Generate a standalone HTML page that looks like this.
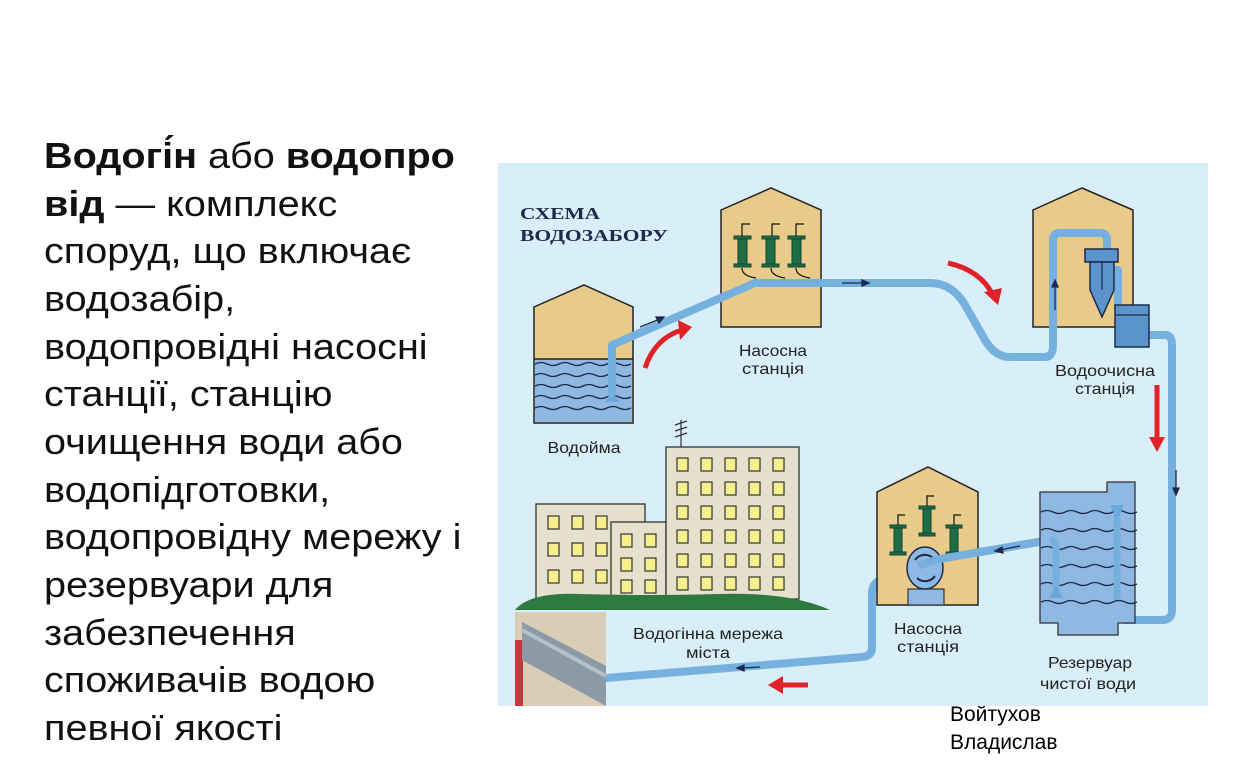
<!DOCTYPE html>
<html><head><meta charset="utf-8">
<style>
html,body{margin:0;padding:0;background:#fff;width:1258px;height:763px;overflow:hidden;position:relative;font-family:"Liberation Sans",Arial,sans-serif;}
.t{position:absolute;left:44px;font-size:36px;color:#111;white-space:nowrap;line-height:1;transform:scaleX(1.1);transform-origin:0 0;}
.a{position:absolute;left:950px;font-size:21px;color:#000;}
svg{position:absolute;left:0;top:0;}
</style></head><body>
<div class="t" style="top:138px"><b>Водогі́н</b> або <b>водопро</b></div>
<div class="t" style="top:186px"><b>від</b> — комплекс</div>
<div class="t" style="top:233px">споруд, що включає</div>
<div class="t" style="top:281px">водозабір,</div>
<div class="t" style="top:329px">водопровідні насосні</div>
<div class="t" style="top:376px">станції, станцію</div>
<div class="t" style="top:424px">очищення води або</div>
<div class="t" style="top:472px">водопідготовки,</div>
<div class="t" style="top:519px">водопровідну мережу і</div>
<div class="t" style="top:567px">резервуари для</div>
<div class="t" style="top:615px">забезпечення</div>
<div class="t" style="top:662px">споживачів водою</div>
<div class="t" style="top:710px">певної якості</div>
<div class="a" style="top:703px">Войтухов</div>
<div class="a" style="top:731px">Владислав</div>

<svg width="1258" height="763" xmlns="http://www.w3.org/2000/svg" font-family="Liberation Sans, Arial, sans-serif">
<rect x="498" y="163" width="710" height="543" fill="#d8eef9"/>
<text x="520" y="219" font-family="Liberation Serif, serif" font-weight="bold" font-size="17" fill="#1d2a4a" textLength="80" lengthAdjust="spacingAndGlyphs">СХЕМА</text>
<text x="520" y="241" font-family="Liberation Serif, serif" font-weight="bold" font-size="17" fill="#1d2a4a" textLength="148" lengthAdjust="spacingAndGlyphs">ВОДОЗАБОРУ</text>

<!-- Vodoima -->
<polygon points="534,307 584,285 633,307 633,423 534,423" fill="#e8cb8a" stroke="#222" stroke-width="1.5"/>
<rect x="535" y="359" width="97" height="63" fill="#8fb8e2"/>
<g stroke="#1d2a4a" stroke-width="1.3" fill="none">
<path d="M535,364 q6,-3 12,0 t12,0 t12,0 t12,0 t12,0 t12,0 t12,0 t12,0"/>
<path d="M535,375 q6,-3 12,0 t12,0 t12,0 t12,0 t12,0 t12,0 t12,0 t12,0"/>
<path d="M535,386 q6,-3 12,0 t12,0 t12,0 t12,0 t12,0 t12,0 t12,0 t12,0"/>
<path d="M535,397 q6,-3 12,0 t12,0 t12,0 t12,0 t12,0 t12,0 t12,0 t12,0"/>
<path d="M535,408 q6,-3 12,0 t12,0 t12,0 t12,0 t12,0 t12,0 t12,0 t12,0"/>
</g>
<line x1="534" y1="359" x2="633" y2="359" stroke="#222" stroke-width="1.5"/>
<polygon points="605,402 619,402 612,390" fill="#6aa8dc"/>

<!-- Pump station 1 -->
<polygon points="721,210 771,188 821,210 821,327 721,327" fill="#e8cb8a" stroke="#222" stroke-width="1.5"/>
<g fill="#1e6e45" stroke="#143" stroke-width="1">
<rect x="738" y="236" width="9" height="30"/><rect x="766" y="236" width="9" height="30"/><rect x="792" y="236" width="9" height="30"/>
<rect x="734" y="236" width="17" height="3"/><rect x="734" y="264" width="17" height="3"/>
<rect x="762" y="236" width="17" height="3"/><rect x="762" y="264" width="17" height="3"/>
<rect x="788" y="236" width="17" height="3"/><rect x="788" y="264" width="17" height="3"/>
</g>
<g stroke="#111" stroke-width="1.2" fill="none">
<path d="M742,236 v-12 h8 M772,236 v-12 h8 M796,236 v-12 h8"/>
<path d="M742,268 q0,8 14,10 M771,268 q0,8 14,10 M796,268 q0,8 14,10"/>
</g>

<!-- Water treatment building -->
<polygon points="1033,210 1082,188 1133,210 1133,327 1033,327" fill="#e8cb8a" stroke="#222" stroke-width="1.5"/>

<!-- Main pipe -->
<g fill="none" stroke="#76b0de" stroke-width="8" stroke-linejoin="round" stroke-linecap="round">
<path d="M612,393 V345 L755,283 H930 Q952,283 965,305 L985,340 Q995,357 1010,357 H1045 Q1053,357 1053,345 V240 Q1053,233 1060,233 H1100 Q1107,233 1107,240 V260"/>
<path d="M1110,270 H1118 V310"/>
<path d="M1148,335 H1165 Q1172,335 1172,345 V610 Q1172,620 1162,620 H1125 Q1117,620 1117,610 V510"/>
<path d="M1050,540 L945,558 Q930,561 918,566 L880,580 Q872,584 872,594 V648 Q872,656 862,657 L606,678"/>
</g>
<!-- filter -->
<rect x="1085" y="249" width="33" height="13" fill="#5b93cc" stroke="#1d2a4a" stroke-width="1.5"/>
<polygon points="1090,262 1114,262 1114,290 1102,317 1090,290" fill="#5b93cc" stroke="#1d2a4a" stroke-width="1.5"/>
<line x1="1102" y1="262" x2="1102" y2="290" stroke="#1d2a4a" stroke-width="1.2"/>
<rect x="1115" y="305" width="34" height="42" fill="#5b93cc" stroke="#1d2a4a" stroke-width="1.5"/>
<line x1="1115" y1="315" x2="1149" y2="315" stroke="#1d2a4a" stroke-width="1.2"/>

<!-- small flow arrows -->
<g stroke="#1d2a4a" stroke-width="1.3" fill="#1d2a4a">
<line x1="640" y1="327" x2="660" y2="319"/><polygon points="664,317 656,317 659,323"/>
<line x1="842" y1="283" x2="864" y2="283"/><polygon points="869,283 862,280 862,286"/>
<line x1="1055" y1="310" x2="1055" y2="285"/><polygon points="1055,280 1052,287 1058,287"/>
<line x1="1176" y1="470" x2="1176" y2="490"/><polygon points="1176,495 1173,488 1179,488"/>
<line x1="760" y1="667" x2="742" y2="668"/><polygon points="737,668 744,665 744,671"/>
</g>

<!-- red arrows -->
<g fill="none" stroke="#e02228" stroke-width="5">
<path d="M645,368 Q655,338 682,330"/>
<path d="M948,263 Q980,270 993,295"/>
<path d="M1157,385 V440"/>
<path d="M808,685 H780"/>
</g>
<g fill="#e02228">
<polygon points="692,327 678,320 680,340"/>
<polygon points="998,305 984,292 1002,288"/>
<polygon points="1157,452 1149,437 1165,437"/>
<polygon points="768,685 783,676 783,694"/>
</g>

<!-- labels -->
<g font-size="16" fill="#222" text-anchor="middle" lengthAdjust="spacingAndGlyphs">
<text x="773" y="356" textLength="68" lengthAdjust="spacingAndGlyphs">Насосна</text><text x="773" y="374" textLength="62" lengthAdjust="spacingAndGlyphs">станція</text>
<text x="584" y="453" textLength="73" lengthAdjust="spacingAndGlyphs">Водойма</text>
<text x="1105" y="376" textLength="100" lengthAdjust="spacingAndGlyphs">Водоочисна</text><text x="1105" y="394" textLength="60" lengthAdjust="spacingAndGlyphs">станція</text>
<text x="708" y="639" textLength="150" lengthAdjust="spacingAndGlyphs">Водогінна мережа</text><text x="708" y="658" textLength="44" lengthAdjust="spacingAndGlyphs">міста</text>
<text x="928" y="634" textLength="68" lengthAdjust="spacingAndGlyphs">Насосна</text><text x="928" y="652" textLength="62" lengthAdjust="spacingAndGlyphs">станція</text>
<text x="1090" y="668" textLength="84" lengthAdjust="spacingAndGlyphs">Резервуар</text><text x="1088" y="689" textLength="96" lengthAdjust="spacingAndGlyphs">чистої води</text>
</g>

<!-- City buildings -->
<g stroke="#333" stroke-width="1.3">
<rect x="536" y="504" width="109" height="95" fill="#e6e1cc"/>
<rect x="611" y="522" width="55" height="77" fill="#e6e1cc"/>
<rect x="666" y="447" width="133" height="152" fill="#e6e1cc"/>
</g>
<path d="M681,447 V420 M675,425 l12,-4 M675,431 l12,-4 M675,437 l12,-4" stroke="#333" stroke-width="1.2"/>
<g fill="#f6ef8c" stroke="#333" stroke-width="1.2">
<rect x="548" y="516" width="11" height="13"/><rect x="572" y="516" width="11" height="13"/><rect x="596" y="516" width="11" height="13"/>
<rect x="548" y="543" width="11" height="13"/><rect x="572" y="543" width="11" height="13"/><rect x="596" y="543" width="11" height="13"/>
<rect x="548" y="570" width="11" height="13"/><rect x="572" y="570" width="11" height="13"/><rect x="596" y="570" width="11" height="13"/>
<rect x="621" y="534" width="11" height="13"/><rect x="645" y="534" width="11" height="13"/>
<rect x="621" y="558" width="11" height="13"/><rect x="645" y="558" width="11" height="13"/>
<rect x="621" y="580" width="11" height="13"/><rect x="645" y="580" width="11" height="13"/>
</g>
<g fill="#f6ef8c" stroke="#333" stroke-width="1.2">
<rect x="677" y="458" width="11" height="13"/><rect x="701" y="458" width="11" height="13"/><rect x="725" y="458" width="11" height="13"/><rect x="749" y="458" width="11" height="13"/><rect x="773" y="458" width="11" height="13"/>
<rect x="677" y="482" width="11" height="13"/><rect x="701" y="482" width="11" height="13"/><rect x="725" y="482" width="11" height="13"/><rect x="749" y="482" width="11" height="13"/><rect x="773" y="482" width="11" height="13"/>
<rect x="677" y="506" width="11" height="13"/><rect x="701" y="506" width="11" height="13"/><rect x="725" y="506" width="11" height="13"/><rect x="749" y="506" width="11" height="13"/><rect x="773" y="506" width="11" height="13"/>
<rect x="677" y="530" width="11" height="13"/><rect x="701" y="530" width="11" height="13"/><rect x="725" y="530" width="11" height="13"/><rect x="749" y="530" width="11" height="13"/><rect x="773" y="530" width="11" height="13"/>
<rect x="677" y="554" width="11" height="13"/><rect x="701" y="554" width="11" height="13"/><rect x="725" y="554" width="11" height="13"/><rect x="749" y="554" width="11" height="13"/><rect x="773" y="554" width="11" height="13"/>
<rect x="677" y="577" width="11" height="13"/><rect x="701" y="577" width="11" height="13"/><rect x="725" y="577" width="11" height="13"/><rect x="749" y="577" width="11" height="13"/><rect x="773" y="577" width="11" height="13"/>
</g>
<path d="M515,610 Q530,592 580,594 Q650,596 720,594 Q790,592 830,610 Z" fill="#2d7a3e"/>
<!-- photo -->
<rect x="515" y="612" width="91" height="94" fill="#d9cdb8"/>
<rect x="515" y="640" width="8" height="66" fill="#c8373a"/>
<path d="M522,622 L606,666 L606,706 L522,660 Z" fill="#8c9aa6"/>
<path d="M522,630 L606,676" stroke="#b4c1cc" stroke-width="4"/>

<!-- Pump station 2 -->
<polygon points="877,492 928,467 978,492 978,605 877,605" fill="#e8cb8a" stroke="#222" stroke-width="1.5"/>
<g fill="#1e6e45" stroke="#143" stroke-width="1">
<rect x="894" y="527" width="8" height="27"/><rect x="923" y="508" width="8" height="27"/><rect x="950" y="527" width="8" height="27"/>
<rect x="890" y="525" width="16" height="3"/><rect x="890" y="552" width="16" height="3"/>
<rect x="919" y="506" width="16" height="3"/><rect x="919" y="533" width="16" height="3"/>
<rect x="946" y="525" width="16" height="3"/><rect x="946" y="552" width="16" height="3"/>
</g>
<path d="M898,525 v-10 h7 M927,506 v-10 h7 M954,525 v-10 h7" stroke="#111" stroke-width="1.2" fill="none"/>
<rect x="908" y="589" width="36" height="16" fill="#8fb8e2" stroke="#333" stroke-width="1.2"/>
<ellipse cx="925" cy="568" rx="18" ry="21" fill="#8fb8e2" stroke="#1d2a4a" stroke-width="1.5"/>
<path d="M915,560 a12,12 0 0 1 18,-2 M935,576 a12,12 0 0 1 -18,2" stroke="#1d2a4a" stroke-width="2" fill="none"/>
<path d="M1050,540 L945,558 Q930,561 918,566" fill="none" stroke="#76b0de" stroke-width="8"/>
<g stroke="#1d2a4a" stroke-width="1.3" fill="#1d2a4a">
<line x1="1020" y1="546" x2="1000" y2="550"/><polygon points="995,551 1002,547 1003,553"/>
</g>

<!-- Reservoir -->
<path d="M1040,492 H1107 V482 H1135 V623 H1118 V635 H1058 V623 H1040 Z" fill="#8fb8e2" stroke="#333" stroke-width="1.3"/>
<g stroke="#1d2a4a" stroke-width="1.3" fill="none">
<path d="M1041,512 q6,-3 12,0 t12,0 t12,0 t12,0 t12,0 t12,0 t12,0 t12,0"/>
<path d="M1041,530 q6,-3 12,0 t12,0 t12,0 t12,0 t12,0 t12,0 t12,0 t12,0"/>
<path d="M1041,548 q6,-3 12,0 t12,0 t12,0 t12,0 t12,0 t12,0 t12,0 t12,0"/>
<path d="M1041,566 q6,-3 12,0 t12,0 t12,0 t12,0 t12,0 t12,0 t12,0 t12,0"/>
<path d="M1041,584 q6,-3 12,0 t12,0 t12,0 t12,0 t12,0 t12,0 t12,0 t12,0"/>
<path d="M1041,602 q6,-3 12,0 t12,0 t12,0 t12,0 t12,0 t12,0 t12,0 t12,0"/>
</g>
<g fill="none" stroke="#76b0de" stroke-width="7" stroke-linejoin="round">
<path d="M1117,600 V505"/>
<path d="M1050,540 Q1056,540 1056,548 V590"/>
</g>
<polygon points="1110,505 1124,505 1117,520" fill="#6aa8dc"/>
<polygon points="1049,598 1063,598 1056,585" fill="#6aa8dc"/>
</svg>
</body></html>
